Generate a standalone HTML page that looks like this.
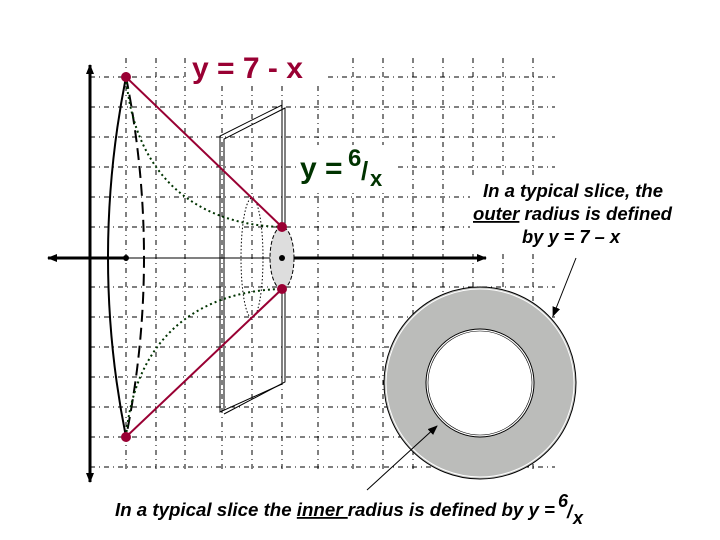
<!DOCTYPE html>
<html><head><style>
html,body{margin:0;padding:0;background:#fff;}
svg{display:block;}
.g{stroke:#000;stroke-width:1;stroke-dasharray:5,4,1,4;fill:none;}
.lbl{font-family:"Liberation Sans",sans-serif;font-weight:bold;font-style:italic;font-size:18px;}
</style></head><body>
<svg width="720" height="540" viewBox="0 0 720 540" xmlns="http://www.w3.org/2000/svg">
<defs>
<marker id="ah" markerWidth="10" markerHeight="10" refX="9" refY="5" orient="auto" markerUnits="userSpaceOnUse"><path d="M0,1 L10,5 L0,9 z" fill="#000"/></marker>
</defs>
<g class="g">
<path d="M126,58V470M156,58V470M185,58V470M222,58V470M252,58V470M282,58V470M318,58V470M353,58V470M383,58V470M413,58V470M443,58V470M473,58V470M503,58V470M533,58V470"/>
<path d="M90,77H555M90,107H555M90,137H555M90,167H555M90,197H555M90,227H555M90,287H555M90,317H555M90,347H555M90,377H555M90,407H555M90,437H555M90,467H555"/>
</g>
<rect x="188" y="50" width="140" height="35" fill="#fff"/>
<rect x="296" y="145" width="100" height="45" fill="#fff"/>
<rect x="470" y="178" width="210" height="72" fill="#fff"/>
<line x1="90" y1="478" x2="90" y2="65" stroke="#000" stroke-width="3" marker-end="url(#ah)"/>
<line x1="90" y1="440" x2="90" y2="482" stroke="#000" stroke-width="3" marker-end="url(#ah)"/>
<line x1="126" y1="258" x2="48" y2="258" stroke="#000" stroke-width="3" marker-end="url(#ah)"/>
<line x1="126" y1="258" x2="282" y2="258" stroke="#000" stroke-width="1"/>
<line x1="282" y1="258" x2="486" y2="258" stroke="#000" stroke-width="3" marker-end="url(#ah)"/>
<circle cx="126" cy="258" r="3" fill="#000"/>
<g fill="none" stroke="#000" stroke-width="1">
<path d="M220,412 V136 L282,105 V384 Z"/>
<path d="M224,410 V139 L285,108 V382 L224,414"/>
</g>
<ellipse cx="252" cy="258" rx="11" ry="60" fill="none" stroke="#000" stroke-width="1" stroke-dasharray="1.5,2"/>
<path d="M126,77 Q90,258 126,437" fill="none" stroke="#000" stroke-width="2"/>
<path d="M126,77 Q162,258 126,437" fill="none" stroke="#000" stroke-width="2" stroke-dasharray="12,6"/>
<path d="M126,77 C135,180 200,225 282,227" fill="none" stroke="#003300" stroke-width="2" stroke-dasharray="2,3"/>
<path d="M126,437 C135,336 200,291 282,289" fill="none" stroke="#003300" stroke-width="2" stroke-dasharray="2,3"/>
<ellipse cx="282" cy="258" rx="12" ry="31" fill="#ddd" stroke="#000" stroke-width="1" stroke-dasharray="4,2"/>
<circle cx="282" cy="258" r="3" fill="#000"/>
<line x1="126" y1="77" x2="282" y2="227" stroke="#990033" stroke-width="2"/>
<line x1="126" y1="437" x2="282" y2="289" stroke="#990033" stroke-width="2"/>
<circle cx="126" cy="77" r="5" fill="#990033"/>
<circle cx="126" cy="437" r="5" fill="#990033"/>
<circle cx="282" cy="227" r="5" fill="#990033"/>
<circle cx="282" cy="289" r="5" fill="#990033"/>
<circle cx="480" cy="383" r="96" fill="#bbbcba" stroke="#000" stroke-width="1"/>
<circle cx="480" cy="383" r="94" fill="none" stroke="#fff" stroke-width="1"/>
<circle cx="480" cy="383" r="54" fill="#fff" stroke="#000" stroke-width="1"/>
<circle cx="480" cy="383" r="52" fill="none" stroke="#000" stroke-width="0.6"/>
<line x1="576" y1="258" x2="553" y2="316" stroke="#000" stroke-width="1" marker-end="url(#ah)"/>
<line x1="367" y1="490" x2="437" y2="426" stroke="#000" stroke-width="1" marker-end="url(#ah)"/>
<text x="192" y="78" font-family="Liberation Sans,sans-serif" font-size="30" font-weight="bold" fill="#990033">y = 7 - x</text>
<text x="300" y="178" font-family="Liberation Sans,sans-serif" font-size="30" font-weight="bold" fill="#003300">y =</text>
<text x="348" y="166" font-family="Liberation Sans,sans-serif" font-size="24" font-weight="bold" fill="#003300">6</text>
<text x="361" y="180" font-family="Liberation Sans,sans-serif" font-size="26" font-weight="bold" fill="#003300">/</text>
<text x="370" y="186" font-family="Liberation Sans,sans-serif" font-size="22" font-weight="bold" fill="#003300">x</text>
<text class="lbl" x="483" y="197" textLength="180" lengthAdjust="spacingAndGlyphs">In a typical slice, the</text>
<text class="lbl" x="473" y="220" textLength="199" lengthAdjust="spacingAndGlyphs"><tspan text-decoration="underline">outer</tspan> radius is defined</text>
<text class="lbl" x="522" y="243" textLength="98" lengthAdjust="spacingAndGlyphs">by y = 7 – x</text>
<text class="lbl" x="115" y="516" textLength="440" lengthAdjust="spacingAndGlyphs">In a typical slice the <tspan text-decoration="underline">inner </tspan>radius is defined by y =</text>
<text class="lbl" x="558" y="507" font-size="19">6</text>
<text class="lbl" x="567" y="518" font-size="19">/</text>
<text class="lbl" x="573" y="524" font-size="17">x</text>
</svg>
</body></html>
